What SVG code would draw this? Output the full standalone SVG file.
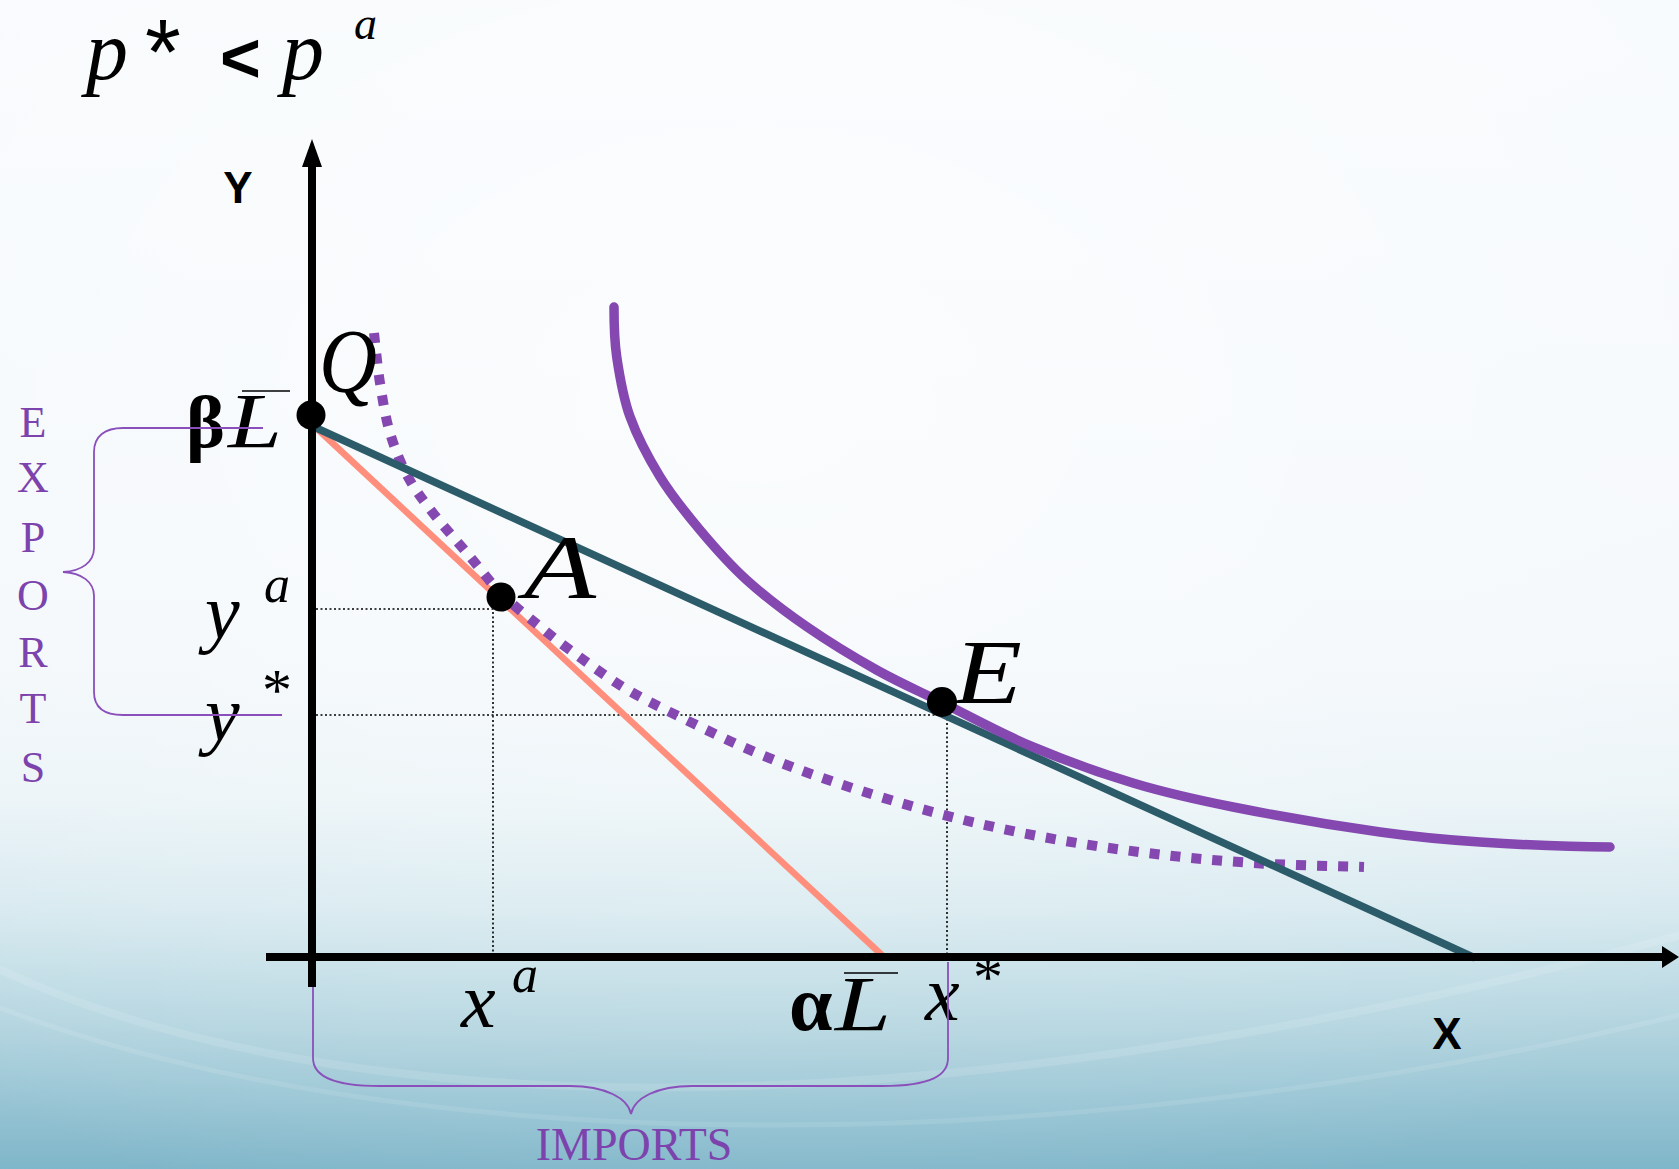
<svg xmlns="http://www.w3.org/2000/svg" width="1679" height="1169" viewBox="0 0 1679 1169">
<defs>
<linearGradient id="bg" x1="0" y1="0" x2="0" y2="1">
<stop offset="0" stop-color="#f8fbfd"/>
<stop offset="0.55" stop-color="#f4f8fb"/>
<stop offset="0.68" stop-color="#ebf4f7"/>
<stop offset="0.78" stop-color="#d6e9ef"/>
<stop offset="0.88" stop-color="#b2d4df"/>
<stop offset="1" stop-color="#7fb6c9"/>
</linearGradient>
<radialGradient id="glow" cx="0.45" cy="0.35" r="0.75">
<stop offset="0" stop-color="#ffffff" stop-opacity="0.5"/>
<stop offset="0.6" stop-color="#ffffff" stop-opacity="0.15"/>
<stop offset="1" stop-color="#ffffff" stop-opacity="0"/>
</radialGradient>
<style>
.serif{font-family:"Liberation Serif","Times New Roman",serif;}
.it{font-family:"Liberation Serif","Times New Roman",serif;font-style:italic;fill:#000;}
.sans{font-family:"Liberation Sans",Arial,sans-serif;font-weight:bold;fill:#000;}
.purp{font-family:"Liberation Serif","Times New Roman",serif;fill:#7d43ad;}
.guide{stroke:#000;stroke-width:1.6;stroke-dasharray:2 2.5;fill:none;}
.brace{stroke:#8a4fbb;stroke-width:1.8;fill:none;}
.axis{stroke:#000;stroke-width:8;fill:none;}
.pt{fill:#000;}
</style>
</defs>
<rect width="1679" height="1169" fill="url(#bg)"/>
<rect width="1679" height="1169" fill="url(#glow)"/>
<g id="swoosh" fill="none" stroke="#ffffff">
<path d="M -20 960 C 300 1120, 900 1150, 1700 930" stroke-width="8" stroke-opacity="0.12"/>
<path d="M -20 1000 C 400 1170, 1100 1160, 1700 1010" stroke-width="5" stroke-opacity="0.1"/>
</g>

<g id="title">
<text class="it" x="86" y="79" font-size="84">p</text>
<text x="145" y="84" font-size="92" font-family="Liberation Sans, Arial, sans-serif">*</text>
<text class="sans" x="220" y="82" font-size="70">&lt;</text>
<text class="it" x="282" y="79" font-size="84">p</text>
<text class="it" x="354" y="39" font-size="46">a</text>
</g>

<g id="guides">
<polyline class="guide" points="316,609 493,609 493,956"/>
<polyline class="guide" points="316,715 947,715 947,956"/>
</g>

<g id="lines" fill="none">
<line id="orange" x1="312" y1="424" x2="884" y2="957" stroke="#ff8f7c" stroke-width="6.5"/>
<path id="dotted-curve" d="M 374 333 C 376 349.7, 377.3 366.3, 380 383 C 382.7 399.7, 385.3 417.3, 390 433 C 394.7 448.7, 400.8 463.7, 408 477 C 415.2 490.3, 423.2 500.3, 433 513 C 442.8 525.7, 455.7 539.7, 467 553 C 478.3 566.3, 488.9 581, 500.7 593 C 512.5 605, 526.4 615.5, 538 625 C 549.6 634.5, 555.8 639.7, 570 650 C 584.2 660.3, 604.7 675.8, 623 687 C 641.3 698.2, 657.7 706, 680 717 C 702.3 728, 730.8 742, 757 753 C 783.2 764, 806.5 772.8, 837 783 C 867.5 793.2, 905.7 805, 940 814 C 974.3 823, 1008.5 830.5, 1043 837 C 1077.5 843.5, 1112 848.7, 1147 853 C 1182 857.3, 1216.8 860.7, 1253 863 C 1289.2 865.3, 1327 865.7, 1364 867" stroke="#8448b0" stroke-width="10" stroke-dasharray="10 11"/>
<line id="teal" x1="312" y1="426" x2="1475" y2="958" stroke="#2c5b69" stroke-width="7.5"/>
<path id="solid-curve" d="M 614 307 C 614 324, 614 338.4, 616.7 356.7 C 619.4 375, 622.8 396.7, 630 416.7 C 637.2 436.7, 648.3 457.8, 660 476.7 C 671.7 495.6, 685.6 512.8, 700 530 C 714.4 547.2, 728.9 563.9, 746.7 580 C 764.5 596.1, 785 611.7, 806.7 626.7 C 828.4 641.7, 854 657.3, 876.7 670 C 899.4 682.7, 917 690.2, 943 703 C 969 715.8, 1001.3 733.7, 1033 747 C 1064.7 760.3, 1099.7 773, 1133 783 C 1166.3 793, 1191.8 798.8, 1233 807 C 1274.2 815.2, 1338.8 826.2, 1380 832 C 1421.2 837.8, 1441.7 839.5, 1480 842 C 1518.3 844.5, 1566.7 847, 1610 847" stroke="#8448b0" stroke-width="9.5" stroke-linecap="round"/>
</g>

<g id="axes">
<line class="axis" x1="312" y1="160" x2="312" y2="987" stroke-width="7.5"/>
<polygon points="312,139 302,167 322,167" fill="#000"/>
<line class="axis" x1="266" y1="957" x2="1666" y2="957"/>
<polygon points="1679,957 1662,946 1662,968" fill="#000"/>
<text class="sans" x="238" y="203" font-size="44" text-anchor="middle">Y</text>
<text class="sans" x="1447" y="1049" font-size="44" text-anchor="middle">X</text>
</g>

<g id="point-Q">
<circle class="pt" cx="311" cy="415" r="14.5"/>
<text class="it" x="319" y="392" font-size="90" textLength="58" lengthAdjust="spacingAndGlyphs">Q</text>
</g>
<g id="point-A">
<circle class="pt" cx="501" cy="597" r="14.5"/>
<text class="it" x="524" y="598" font-size="92" textLength="72" lengthAdjust="spacingAndGlyphs">A</text>
</g>
<g id="point-E">
<circle class="pt" cx="942" cy="702" r="15"/>
<text class="it" x="954" y="703" font-size="90" textLength="68" lengthAdjust="spacingAndGlyphs">E</text>
</g>

<g id="y-labels">
<text class="serif" x="186" y="447" font-size="74" font-weight="bold">β</text>
<text class="it" x="228" y="447" font-size="78" textLength="54" lengthAdjust="spacingAndGlyphs">L</text>
<line x1="242" y1="391" x2="290" y2="391" stroke="#000" stroke-width="1.6"/>
<text class="it" x="205" y="638" font-size="78">y</text>
<text class="it" x="264" y="602" font-size="52">a</text>
<text class="it" x="205" y="740" font-size="78">y</text>
<text class="serif" x="262" y="710" font-size="60">*</text>
</g>

<g id="x-labels">
<text class="it" x="461" y="1027" font-size="78">x</text>
<text class="it" x="512" y="992" font-size="52">a</text>
<text class="serif" x="789" y="1030" font-size="78" font-weight="bold">α</text>
<text class="it" x="835" y="1030" font-size="78" textLength="56" lengthAdjust="spacingAndGlyphs">L</text>
<line x1="844" y1="973" x2="898" y2="973" stroke="#000" stroke-width="1.6"/>
<text class="it" x="925" y="1020" font-size="78">x</text>
<text class="serif" x="973" y="997" font-size="60">*</text>
</g>

<g id="exports">
<path class="brace" d="M 263 428 L 123 428 C 105 428, 94 436, 94 452 L 94 548 C 94 562, 82 571, 63 572 C 82 573, 94 582, 94 596 L 94 692 C 94 708, 105 715, 123 715 L 282 715"/>
<g class="purp" font-size="44" text-anchor="middle">
<text x="33" y="437">E</text>
<text x="33" y="492">X</text>
<text x="33" y="552">P</text>
<text x="33" y="610">O</text>
<text x="33" y="667">R</text>
<text x="33" y="723">T</text>
<text x="33" y="782">S</text>
</g>
</g>

<g id="imports">
<path class="brace" d="M 313 987 L 313 1058 C 313 1075, 330 1086, 380 1086 L 570 1086 C 605 1086, 628 1098, 631 1114 C 634 1098, 657 1086, 692 1086 L 882 1086 C 932 1086, 948 1075, 948 1058 L 948 962"/>
<text class="purp" x="634" y="1160" font-size="46" text-anchor="middle">IMPORTS</text>
</g>
</svg>
